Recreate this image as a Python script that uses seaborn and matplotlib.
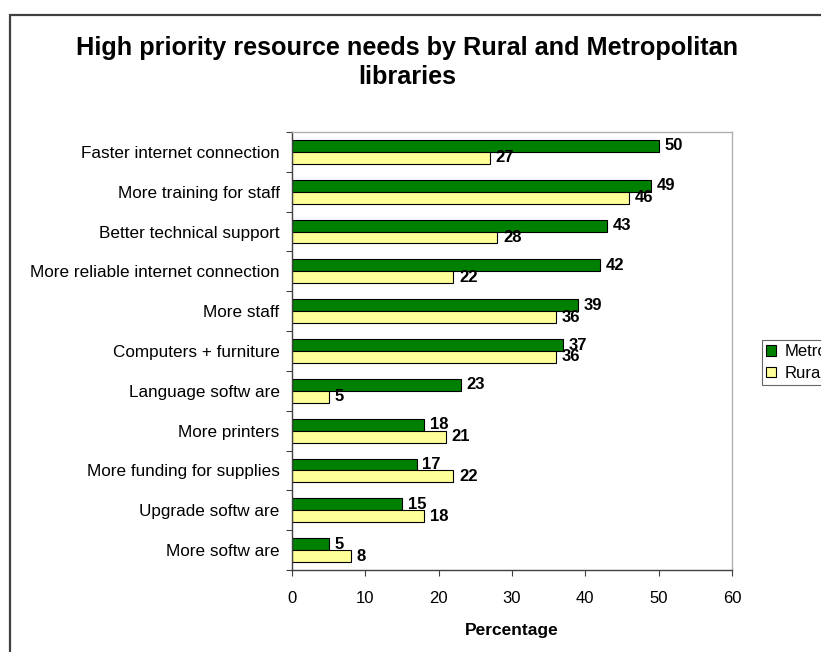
import matplotlib
matplotlib.use("Agg")
import matplotlib.pyplot as plt
from matplotlib.patches import Rectangle
from matplotlib.ticker import FixedLocator
import pandas as pd
import seaborn as sns

categories = [
    "Faster internet connection",
    "More training for staff",
    "Better technical support",
    "More reliable internet connection",
    "More staff",
    "Computers + furniture",
    "Language softw are",
    "More printers",
    "More funding for supplies",
    "Upgrade softw are",
    "More softw are",
]
metro = [50, 49, 43, 42, 39, 37, 23, 18, 17, 15, 5]
rural = [27, 46, 28, 22, 36, 36, 5, 21, 22, 18, 8]
series_names = ["Metropolitan", "Rural"]
x_ticks = [0, 10, 20, 30, 40, 50, 60]

df = pd.DataFrame({
    "Need": categories * 2,
    "Percentage": metro + rural,
    "Group": [series_names[0]] * len(categories) + [series_names[1]] * len(categories),
})

sns.set_theme(style="white")
plt.rcParams["font.family"] = ["Liberation Sans", "DejaVu Sans"]
for key in ("text.color", "axes.labelcolor", "xtick.color", "ytick.color"):
    plt.rcParams[key] = "black"

fig = plt.figure(figsize=(8.21, 6.52), dpi=100)
ax = fig.add_axes([292 / 821, 1 - 570 / 652, 440 / 821, 438 / 652])

sns.barplot(
    data=df, x="Percentage", y="Need", hue="Group", orient="h",
    palette={"Metropolitan": "#008000", "Rural": "#FFFF99"}, saturation=1,
    width=0.6, edgecolor="black", linewidth=0.8, ax=ax, legend=True,
)

for cont in ax.containers:
    ax.bar_label(cont, padding=4, fontsize=12, fontweight="bold", color="black")

ax.set_xlim(0, 60)
ax.set_ylim(len(categories) - 0.5, -0.5)
ax.set_xticks(x_ticks)
ax.set_xticklabels([str(t) for t in x_ticks], fontsize=12)
ax.set_yticks(range(len(categories)))
ax.set_yticklabels(categories, fontsize=12.3)
ax.yaxis.set_minor_locator(FixedLocator([i - 0.5 for i in range(len(categories) + 1)]))
ax.tick_params(axis="y", which="major", length=0, pad=9)
ax.tick_params(axis="y", which="minor", length=4, width=0.8, color="#404040", left=True)
ax.tick_params(axis="x", which="major", length=4, width=0.8, color="#404040", bottom=True, pad=11)
ax.set_ylabel("")
ax.set_xlabel("Percentage", fontsize=12.5, fontweight="bold", labelpad=12)

for side in ("left", "bottom"):
    ax.spines[side].set_color("#404040")
    ax.spines[side].set_linewidth(1.0)
for side in ("top", "right"):
    ax.spines[side].set_visible(True)
    ax.spines[side].set_color("#b0b0b0")
    ax.spines[side].set_linewidth(1.0)

handles, labels = ax.get_legend_handles_labels()
ax.legend(
    handles, labels, loc="upper left", bbox_to_anchor=(762 / 821, 1 - 340 / 652),
    bbox_transform=fig.transFigure, frameon=True, fancybox=False, fontsize=12,
    edgecolor="#404040", handlelength=0.6, handleheight=0.6, handletextpad=0.5,
    borderpad=0.25, labelspacing=0.4, borderaxespad=0,
)
ax.get_legend().get_frame().set_linewidth(0.8)

fig.text(407 / 821, 1 - 48 / 652, "High priority resource needs by Rural and Metropolitan",
         ha="center", va="center", fontsize=18.2, fontweight="bold")
fig.text(407 / 821, 1 - 77 / 652, "libraries",
         ha="center", va="center", fontsize=18.2, fontweight="bold")

frame = Rectangle((10 / 821, -0.05), 1.1, 1 - 15 / 652 + 0.05, transform=fig.transFigure,
                  fill=False, edgecolor="#404040", linewidth=1.6, clip_on=False)
fig.add_artist(frame)

fig.savefig("out.png", dpi=100)
